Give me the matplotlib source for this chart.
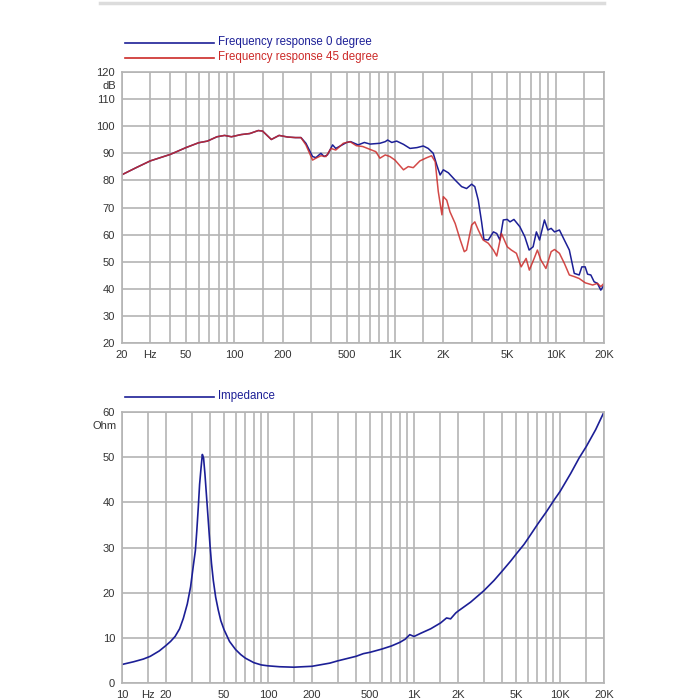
import matplotlib
matplotlib.use("Agg")
import matplotlib.pyplot as plt
from matplotlib.lines import Line2D

plt.rcParams["font.family"] = ["Liberation Sans", "DejaVu Sans"]

# frequency response, 0 degree (Hz, dB)
fr0_hz = [20, 24.5, 30, 40, 50, 60, 68, 78, 87, 96, 110, 125, 141, 150, 170, 190, 215,
          240, 260, 279, 307, 322, 346, 362, 380, 409, 428, 450, 500, 530, 590, 645, 700,
          806, 870, 900, 955, 1025, 1130, 1240, 1370, 1500, 1610, 1730, 1820, 1910, 2000,
          2150, 2370, 2600, 2790, 3000, 3140, 3300, 3460, 3580, 3810, 4100, 4300, 4500,
          4720, 5000, 5200, 5500, 5990, 6430, 6840, 7240, 7590, 7940, 8520, 8940, 9380,
          9840, 10560, 11330, 12170, 13060, 14010, 14560, 15270, 15800, 16560, 17360,
          18200, 19100, 20000]
fr0_db = [82.1, 84.7, 87.2, 89.6, 92.1, 93.9, 94.5, 96.1, 96.6, 96.1, 96.9, 97.3, 98.4, 98.2, 95.1, 96.6, 96,
          95.8, 95.8, 93.7, 88.8, 88.4, 90, 88.8, 89.4, 93.1, 91.8, 92.5, 94, 94.3, 93.1, 94, 93.4,
          93.7, 94.3, 94.9, 94, 94.5, 93.3, 91.8, 92.1, 92.7, 91.8, 90, 85.7, 82, 83.9,
          82.8, 80.1, 77.7, 77, 78.6, 77.7, 72.7, 64.7, 58.2, 58, 61, 60.4, 58,
          65.4, 65.6, 64.7, 65.6, 62.9, 59.2, 54.3, 55.5, 61, 58, 65.4, 61.7, 62.3,
          61, 61.7, 58, 54.3, 45.7, 45.1, 48.1, 48.1, 45.4, 45.1, 42.6,
          42, 39.5, 41.4]

# frequency response, 45 degree (Hz, dB)
fr45_hz = [20, 24.5, 30, 40, 50, 60, 68, 78, 87, 96, 110, 125, 141, 150, 170, 190, 215,
           240, 260, 279, 307, 322, 346, 372, 400, 428, 477, 525, 575, 630, 675, 760, 806,
           870, 930, 1000, 1130, 1210, 1300, 1430, 1580, 1690, 1780, 1860, 1960, 2000, 2100,
           2200, 2370, 2550, 2700, 2790, 3000, 3140, 3300, 3540, 3810, 4100, 4300, 4600,
           5000, 5300, 5700, 6100, 6550, 6860, 7350, 7700, 8100, 8700, 9380, 9840, 10560,
           11330, 12170, 13060, 14010, 15300, 17000, 18200, 19100, 20000]
fr45_db = [82.1, 84.7, 87.2, 89.6, 92.1, 93.9, 94.5, 96.1, 96.6, 96.1, 96.9, 97.3, 98.4, 98.2, 95.1, 96.6, 96,
           95.8, 95.8, 93.1, 87.5, 88.2, 89.1, 88.8, 91.8, 91.2, 93.7, 94.3, 92.8, 92.5, 91.8, 90.6, 88.2,
           89.4, 88.8, 87.5, 83.9, 85.1, 84.7, 87.2, 88.4, 89.1, 86.9, 75.9, 67.3, 74, 72.7,
           68.4, 64.1, 58, 53.7, 54.3, 63.5, 64.7, 61.7, 58, 56.8, 54.3, 52.1, 60.4,
           55.5, 54.3, 53.1, 48.1, 51.2, 46.9, 51.2, 54.3, 50.6, 47.5, 53.7, 54.5, 53.1,
           49.4, 45.1, 44.5, 43.8, 42.2, 41.4, 42, 40.8, 42]

# impedance (Hz, Ohm)
imp_hz = [10, 12, 14, 15.6, 18, 20, 21.5, 23.1, 24.8, 26.3, 28, 29.5, 30.8, 31.8, 32.5, 33.3, 34,
          34.8, 35.5, 36.2, 37, 37.7, 38.4, 39.2, 40, 41, 42.2, 43.8, 45.6, 47.5, 50, 54.5,
          60, 65, 70, 80, 90, 100, 120, 150, 200, 265, 300, 400, 450, 500, 600, 700, 800,
          870, 935, 1000, 1110, 1300, 1520, 1670, 1780, 1930, 2000, 2440, 3000, 3530, 4020,
          4590, 5050, 5670, 6070, 7070, 8060, 9100, 10000, 11830, 13500, 15150, 17540, 20000]
imp_ohm = [4.1, 4.7, 5.3, 5.9, 7.1, 8.3, 9.2, 10.3, 12, 14.3, 17.5, 21.3, 26, 29.3, 33.5, 38.9, 44,
           47.7, 50.6, 49.8, 46.2, 42.5, 38.9, 34.8, 30.8, 26.5, 22.7, 19, 16.2, 13.8, 11.8, 9.2,
           7.4, 6.3, 5.5, 4.5, 4, 3.8, 3.6, 3.5, 3.7, 4.4, 4.9, 5.9, 6.5, 6.8, 7.5, 8.2, 9.0,
           9.7, 10.7, 10.3, 11, 12, 13.3, 14.4, 14.2, 15.5, 15.9, 17.9, 20.4, 22.7, 24.8,
           27, 28.7, 30.7, 32.1, 35.3, 37.9, 40.5, 42.4, 46.4, 49.8, 52.4, 56.1, 60]

grid_hz = [10, 15, 20, 30, 40, 50, 60, 70, 80, 90, 100, 150, 200, 300, 400, 500, 600, 700,
           800, 900, 1000, 1500, 2000, 3000, 4000, 5000, 6000, 7000, 8000, 9000, 10000,
           15000, 20000]
tick_text = {10: "10", 20: "20", 50: "50", 100: "100", 200: "200", 500: "500",
             1000: "1K", 2000: "2K", 5000: "5K", 10000: "10K", 20000: "20K"}

blue = "#1c1f96"
red = "#cc2a28"
grid_c = "#b4b4b4"
text_c = "#333333"


def style_axes(ax, fmin, ymin, ymax, hz_at, unit):
    ticks = [f for f in grid_hz if f >= fmin]
    labels = ["Hz" if f == hz_at else tick_text.get(f, "") for f in ticks]
    ax.set_xscale("log")
    ax.set_xlim(fmin, 20000)
    ax.set_ylim(ymin, ymax)
    ax.set_xticks(ticks)
    ax.set_xticklabels(labels)
    ax.minorticks_off()
    ax.set_yticks(range(ymin, ymax + 1, 10))
    ax.grid(True, color=grid_c, linewidth=1.2)
    ax.set_axisbelow(True)
    ax.tick_params(length=0, labelsize=8, labelcolor=text_c, pad=5)
    for s in ax.spines.values():
        s.set_color(grid_c)
        s.set_linewidth(1.2)
    ax.text(-0.012, 1 - 14 / 271, unit, transform=ax.transAxes, ha="right", va="center",
            fontsize=8, color=text_c)


fig = plt.figure(figsize=(7, 7), dpi=100)

ax1 = fig.add_axes([122 / 700, 1 - 343 / 700, 482 / 700, 271 / 700])
style_axes(ax1, 20, 20, 120, 30, "dB")
ax1.plot(fr0_hz, fr0_db, color=blue, linewidth=1.1)
ax1.plot(fr45_hz, fr45_db, color=red, linewidth=1.1, alpha=0.85)

ax2 = fig.add_axes([122 / 700, 1 - 683 / 700, 482 / 700, 271 / 700])
style_axes(ax2, 10, 0, 60, 15, "Ohm")
ax2.plot(imp_hz, imp_ohm, color=blue, linewidth=1.2)

# legend lines and labels above each panel
legend_rows = [(43, blue, "Frequency response 0 degree"),
               (58, red, "Frequency response 45 degree"),
               (397, blue, "Impedance")]
for y, c, label in legend_rows:
    fig.add_artist(Line2D([125 / 700, 214 / 700], [1 - y / 700] * 2, color=c, linewidth=1.2))
    fig.text(218 / 700, 1 - (y - 1) / 700, label, color=c, fontsize=8.3, va="center")

# faint rule at the top of the page
fig.add_artist(Line2D([100 / 700, 604 / 700], [1 - 3 / 700] * 2, color="#dcdcdc", linewidth=2.5))

fig.savefig("out.png", dpi=100)
